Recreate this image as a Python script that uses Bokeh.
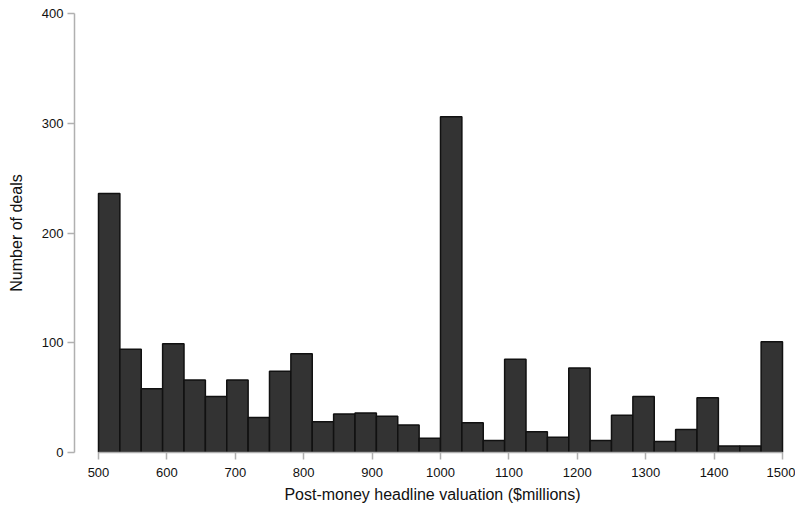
import numpy as np
from bokeh.plotting import figure
from bokeh.models import Range1d, FixedTicker
from bokeh.embed import file_html
from bokeh.resources import INLINE

# Histogram data (32 bins from 500 to 1500, $millions)
bin_start = 500
bin_end = 1500
counts = [236, 94, 58, 99, 66, 51, 66, 32, 74, 90, 28, 35, 36, 33, 25, 13,
          306, 27, 11, 85, 19, 14, 77, 11, 34, 51, 10, 21, 50, 6, 6, 101]
x_ticks = [500, 600, 700, 800, 900, 1000, 1100, 1200, 1300, 1400, 1500]
y_ticks = [0, 100, 200, 300, 400]

edges = np.linspace(bin_start, bin_end, len(counts) + 1)

FONT = "Liberation Sans"

p = figure(width=795, height=507, output_backend="svg", toolbar_location=None,
           min_border_left=74, min_border_right=5, min_border_top=13, min_border_bottom=55)
px_per_unit = 684 / 1000
x0 = bin_start - 24 / px_per_unit
p.x_range = Range1d(x0, x0 + 716 / px_per_unit)
p.y_range = Range1d(0, 400)

p.quad(left=edges[:-1], right=edges[1:], bottom=0, top=counts,
       fill_color="#333333", line_color="#111111", line_width=1.5)

p.outline_line_color = None
p.xgrid.visible = False
p.ygrid.visible = False
p.background_fill_color = "white"
p.border_fill_color = "white"

for ax in (p.xaxis[0], p.yaxis[0]):
    ax.axis_line_color = "#b0b0b0"
    ax.axis_line_width = 1.5
    ax.major_tick_line_color = "#b0b0b0"
    ax.major_tick_line_width = 1.5
    ax.major_tick_in = 0
    ax.major_tick_out = 7
    ax.minor_tick_line_color = None
    ax.major_label_text_font = FONT
    ax.major_label_text_font_size = "13px"
    ax.major_label_text_color = "#111111"
    ax.axis_label_text_font = FONT
    ax.axis_label_text_font_size = "16px"
    ax.axis_label_text_font_style = "normal"
    ax.axis_label_text_color = "#111111"

p.xaxis.ticker = FixedTicker(ticks=x_ticks)
p.yaxis.ticker = FixedTicker(ticks=y_ticks)
p.xaxis.bounds = (bin_start, bin_end)
p.yaxis.bounds = (0, 400)
p.xaxis.axis_label = "Post-money headline valuation ($millions)"
p.yaxis.axis_label = "Number of deals"
p.xaxis.major_label_standoff = 8
p.yaxis.major_label_standoff = 4
p.xaxis.axis_label_standoff = 6
p.yaxis.axis_label_standoff = 14

open("out.html", "w").write(file_html(p, INLINE))
